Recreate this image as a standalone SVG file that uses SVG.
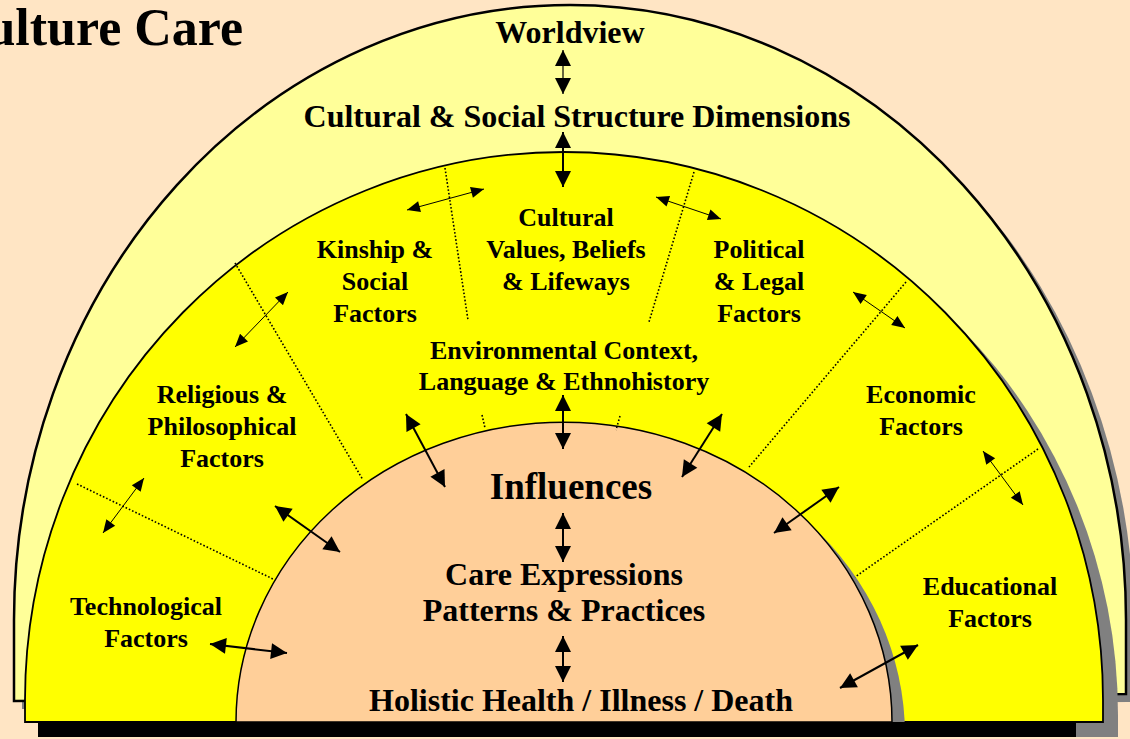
<svg xmlns="http://www.w3.org/2000/svg" width="1130" height="739" viewBox="0 0 1130 739">
  <defs>
    <style>
      text { font-family: "Liberation Serif", "Times New Roman", serif; font-weight: bold; fill: #000; text-anchor: middle; }
      .lg { font-size: 32px; }
      .sm { font-size: 26px; }
      .shadow { fill: #808080; stroke: none; }
      .big { stroke: #000; stroke-width: 2; fill: none; marker-start: url(#hb); marker-end: url(#hb); }
      .bigthin { stroke: #000; stroke-width: 1.2; fill: none; marker-start: url(#hb); marker-end: url(#hb); }
      .thin { stroke: #000; stroke-width: 1; fill: none; marker-start: url(#hs); marker-end: url(#hs); }
      .dot { stroke: #000; stroke-width: 1.6; stroke-dasharray: 1.6 2; fill: none; }
    </style>
    <marker id="hb" markerUnits="userSpaceOnUse" markerWidth="18" markerHeight="18" viewBox="0 -9 16 18" refX="16" refY="0" orient="auto-start-reverse">
      <path d="M0,-8 L16,0 L0,8 Z" fill="#000"/>
    </marker>
    <marker id="hs" markerUnits="userSpaceOnUse" markerWidth="14" markerHeight="14" viewBox="0 -7 13 14" refX="13" refY="0" orient="auto-start-reverse">
      <path d="M0,-5.5 L13,0 L0,5.5 Z" fill="#000"/>
    </marker>
  </defs>

  <rect x="0" y="0" width="1130" height="739" fill="#FFE5C4"/>

  <g id="outer-band">
    <path class="shadow" transform="translate(8,8)" d="M14 701 L14 620 A556 615 0 0 1 1126 620 L1126 694 Z"/>
    <path d="M14 701 L14 620 A556 615 0 0 1 1126 620 L1126 694 Z" fill="#FFFF99" stroke="#000" stroke-width="2.5"/>
  </g>

  <g id="middle-band">
    <path class="shadow" transform="translate(15,15)" d="M25 722 L25 700 A539 548 0 0 1 1103 700 L1103 722 Z"/>
    <path d="M25 722 L25 700 A539 548 0 0 1 1103 700 L1103 722 Z" fill="#FFFF00" stroke="#000" stroke-width="1.8"/>
  </g>

  <g id="inner-core">
    <path class="shadow" transform="translate(13,13)" d="M236 722 A328 300 0 0 1 892 722 Z"/>
    <path d="M236 722 A328 300 0 0 1 892 722 Z" fill="#FFCF99" stroke="#000" stroke-width="1.5"/>
  </g>

  <rect id="base-bar" x="38" y="722" width="1038" height="15" fill="#000"/>

  <g id="dividers">
    <line class="dot" x1="445" y1="168" x2="468" y2="320"/>
    <line class="dot" x1="482" y1="415" x2="485" y2="428"/>
    <line class="dot" x1="694" y1="172" x2="649" y2="322"/>
    <line class="dot" x1="620" y1="416" x2="616" y2="430"/>
    <line class="dot" x1="235" y1="263" x2="363" y2="480"/>
    <line class="dot" x1="77" y1="484" x2="273" y2="579"/>
    <line class="dot" x1="906" y1="282" x2="749" y2="467"/>
    <line class="dot" x1="1038" y1="449" x2="855" y2="577"/>
  </g>

  <g id="connectors">
    <line class="bigthin" x1="563" y1="50" x2="563" y2="94"/>
    <line class="big" x1="563" y1="132" x2="563" y2="187"/>
    <line class="big" x1="563" y1="395" x2="563" y2="449"/>
    <line class="big" x1="563" y1="513" x2="563" y2="562"/>
    <line class="big" x1="563" y1="636" x2="563" y2="682"/>
    <line class="big" x1="406" y1="414" x2="445" y2="487"/>
    <line class="big" x1="722" y1="414" x2="682" y2="477"/>
    <line class="big" x1="275" y1="506" x2="340" y2="552"/>
    <line class="big" x1="839" y1="487" x2="774" y2="533"/>
    <line class="big" x1="210" y1="644" x2="287" y2="653"/>
    <line class="big" x1="918" y1="645" x2="840" y2="688"/>
    <line class="thin" x1="407" y1="210" x2="484" y2="189"/>
    <line class="thin" x1="656" y1="197" x2="721" y2="219"/>
    <line class="thin" x1="288" y1="292" x2="235" y2="347"/>
    <line class="thin" x1="144" y1="478" x2="103" y2="533"/>
    <line class="thin" x1="853" y1="292" x2="905" y2="328"/>
    <line class="thin" x1="983" y1="451" x2="1023" y2="505"/>
  </g>

  <g id="title">
    <text x="243" y="45" font-size="52" style="text-anchor:end">ulture Care</text>
  </g>
  <g id="worldview"><text class="lg" x="570" y="43">Worldview</text></g>
  <g id="cultural-social"><text class="lg" x="577" y="127">Cultural &amp; Social Structure Dimensions</text></g>
  <g id="kinship">
    <text class="sm" x="375" y="258">Kinship &amp;</text>
    <text class="sm" x="375" y="290">Social</text>
    <text class="sm" x="375" y="322">Factors</text>
  </g>
  <g id="values">
    <text class="sm" x="566" y="226">Cultural</text>
    <text class="sm" x="566" y="258">Values, Beliefs</text>
    <text class="sm" x="566" y="290">&amp; Lifeways</text>
  </g>
  <g id="political">
    <text class="sm" x="759" y="258">Political</text>
    <text class="sm" x="759" y="290">&amp; Legal</text>
    <text class="sm" x="759" y="322">Factors</text>
  </g>
  <g id="environmental">
    <text class="sm" x="564" y="359">Environmental Context,</text>
    <text class="sm" x="564" y="390">Language &amp; Ethnohistory</text>
  </g>
  <g id="religious">
    <text class="sm" x="222" y="403">Religious &amp;</text>
    <text class="sm" x="222" y="435">Philosophical</text>
    <text class="sm" x="222" y="467">Factors</text>
  </g>
  <g id="economic">
    <text class="sm" x="921" y="403">Economic</text>
    <text class="sm" x="921" y="435">Factors</text>
  </g>
  <g id="technological">
    <text class="sm" x="146" y="615">Technological</text>
    <text class="sm" x="146" y="647">Factors</text>
  </g>
  <g id="educational">
    <text class="sm" x="990" y="595">Educational</text>
    <text class="sm" x="990" y="627">Factors</text>
  </g>
  <g id="influences"><text x="571" y="499" font-size="37">Influences</text></g>
  <g id="care">
    <text class="lg" x="564" y="585">Care Expressions</text>
    <text class="lg" x="564" y="621">Patterns &amp; Practices</text>
  </g>
  <g id="health"><text class="lg" x="581" y="711">Holistic Health / Illness / Death</text></g>
</svg>
